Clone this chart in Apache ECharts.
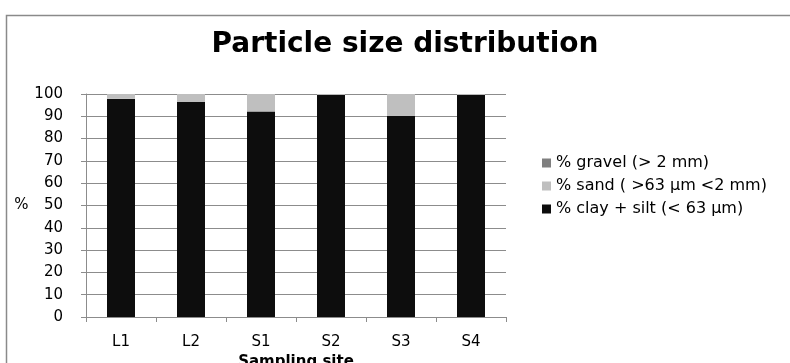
<!DOCTYPE html>
<html>
<head>
<meta charset="utf-8">
<script src="https://cdn.jsdelivr.net/npm/echarts@6/dist/echarts.min.js"></script>
<style>html,body{margin:0;padding:0;background:#fff;}#c{width:790px;height:363px;}</style>
</head>
<body>
<div id="c"></div>
<script>
var categories = ['L1', 'L2', 'S1', 'S2', 'S3', 'S4'];
var clayValues = [97.8, 96.5, 92.2, 99.6, 90.3, 99.6];
var sandValues = [2.2, 3.5, 7.8, 0.4, 9.7, 0.4];
var gravelValues = [0, 0, 0, 0, 0, 0];
var seriesNames = ['% gravel (> 2 mm)', '% sand ( >63 \u00b5m <2 mm)', '% clay + silt (< 63 \u00b5m)'];
var titleText = 'Particle size distribution';

var chart = echarts.init(document.getElementById('c'), null, {renderer: 'canvas'});
var font = 'DejaVu Sans';
chart.setOption({
  animation: false,
  backgroundColor: '#fff',
  graphic: [{
    type: 'rect', shape: {x: 6.5, y: 15.5, width: 900, height: 400},
    style: {fill: 'none', stroke: '#8a8a8a', lineWidth: 1.5}, silent: true
  }],
  title: {
    text: titleText, left: 405, top: 31, textAlign: 'center', padding: 0,
    textStyle: {fontFamily: font, fontWeight: 'bold', fontSize: 28, color: '#000'}
  },
  legend: {
    orient: 'vertical', left: 537, top: 150, itemWidth: 9, itemHeight: 9, itemGap: 7,
    icon: 'rect',
    data: [seriesNames[0], seriesNames[1], seriesNames[2]],
    textStyle: {fontFamily: font, fontSize: 16, color: '#000'}
  },
  grid: {left: 86, right: 284, top: 94, bottom: 46, containLabel: false, outerBoundsMode: 'none'},
  xAxis: {
    type: 'category', data: categories,
    axisLine: {lineStyle: {color: '#8c8c8c', width: 1}},
    axisTick: {show: true, length: 5, lineStyle: {color: '#8c8c8c'}},
    axisLabel: {margin: 18, fontFamily: font, fontSize: 15, color: '#000'},
    name: 'Sampling site', nameLocation: 'middle', nameGap: 33,
    nameTextStyle: {fontFamily: font, fontWeight: 'bold', fontSize: 15, color: '#000'}
  },
  yAxis: {
    type: 'value', min: 0, max: 100, interval: 10,
    axisLine: {show: true, lineStyle: {color: '#8c8c8c', width: 1}},
    axisTick: {show: true, length: 5, lineStyle: {color: '#8c8c8c'}},
    splitLine: {lineStyle: {color: '#8c8c8c', width: 1}},
    axisLabel: {margin: 23, fontFamily: font, fontSize: 15, color: '#000'},
    name: '%', nameLocation: 'middle', nameRotate: 0, nameGap: 56,
    nameTextStyle: {fontFamily: font, fontSize: 15, color: '#000'}
  },
  series: [
    {name: seriesNames[2], type: 'bar', stack: 'a', data: clayValues, barWidth: 28, itemStyle: {color: '#0d0d0d'}},
    {name: seriesNames[1], type: 'bar', stack: 'a', data: sandValues, barWidth: 28, itemStyle: {color: '#bfbfbf'}},
    {name: seriesNames[0], type: 'bar', stack: 'a', data: gravelValues, barWidth: 28, itemStyle: {color: '#7f7f7f'}}
  ]
});
</script>
</body>
</html>
